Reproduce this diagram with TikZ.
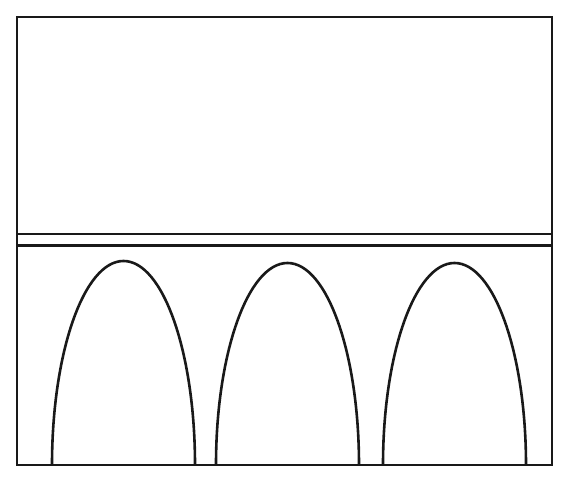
\documentclass[tikz,border=0pt]{standalone}
\begin{document}
\begin{tikzpicture}[x=1pt,y=1pt,
  outline/.style={draw=black!90,line width=2.8pt},
  archline/.style={draw=black!90,line width=2.6pt}]
\useasboundingbox (0,0) rectangle (576,484);
% outer frame
\draw[outline] (17,19) rectangle (552,467);
% double horizontal band
\draw[outline] (17,250) -- (552,250);
\draw[outline] (17,238.5) -- (552,238.5);
% arches (half ellipses)
\draw[archline] (52,19) arc[start angle=180,end angle=0,x radius=71.5,y radius=204];
\draw[archline] (216,19) arc[start angle=180,end angle=0,x radius=71.5,y radius=202];
\draw[archline] (383,19) arc[start angle=180,end angle=0,x radius=71.5,y radius=202];
\end{tikzpicture}
\end{document}
